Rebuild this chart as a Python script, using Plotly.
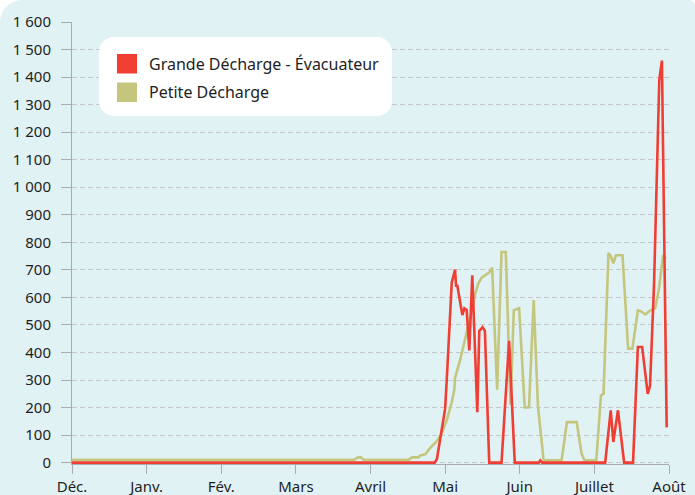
import plotly.graph_objects as go

# ---------------- data ----------------
MONTH_LABELS = ["Déc.", "Janv.", "Fév.", "Mars", "Avril", "Mai", "Juin", "Juillet", "Août"]
MONTH_TICKS = list(range(len(MONTH_LABELS)))        # months since 1 Dec
Y_TICKS = list(range(0, 1601, 100))

SERIES_NAMES = ["Grande Décharge - Évacuateur", "Petite Décharge"]

# time in months since 1 December, discharge value
grande_t = [0.0, 4.86, 4.89, 4.935, 4.978, 5.0, 5.022, 5.067, 5.089, 5.133, 5.147,
            5.164, 5.231, 5.258, 5.289, 5.324, 5.364, 5.431, 5.458, 5.502, 5.533,
            5.591, 5.756, 5.857, 5.933, 6.255, 6.275, 6.30, 7.145, 7.219, 7.254,
            7.316, 7.399, 7.518, 7.583, 7.640, 7.715, 7.746, 7.80, 7.87, 7.905, 7.969]
grande_q = [0, 0, 13, 89, 160, 195, 301, 513, 654, 701, 642,
            642, 536, 560, 554, 407, 680, 183, 478, 492, 478,
            0, 0, 442, 0, 0, 8, 0, 0, 190, 75,
            190, 0, 0, 420, 420, 250, 280, 650, 1390, 1460, 128]

petite_t = [0.0, 3.78, 3.83, 3.87, 3.91, 4.51, 4.556, 4.644, 4.667, 4.733, 4.80,
            4.889, 4.956, 5.022, 5.089, 5.124, 5.133, 5.20, 5.267, 5.311, 5.356,
            5.40, 5.444, 5.489, 5.556, 5.59, 5.63, 5.697, 5.756, 5.813, 5.876,
            5.92, 5.991, 6.067, 6.124, 6.187, 6.244, 6.32, 6.561, 6.632, 6.763,
            6.829, 6.868, 7.026, 7.088, 7.123, 7.189, 7.22, 7.254, 7.289, 7.377,
            7.452, 7.509, 7.583, 7.62, 7.684, 7.737, 7.816, 7.868, 7.921, 7.956]
petite_q = [10, 10, 19, 19, 10, 10, 19, 19, 26, 30, 54,
            78, 107, 154, 219, 266, 307, 372, 448, 495, 550,
            610, 650, 672, 685, 690, 708, 265, 765, 765, 210,
            553, 561, 200, 200, 590, 205, 8, 8, 147, 147,
            32, 8, 8, 244, 250, 761, 750, 724, 753, 753,
            414, 414, 553, 550, 538, 550, 561, 636, 754, 740]

COLORS = ["#ef3e33", "#c4c67e"]

# ---------------- geometry ----------------
FIG_W, FIG_H = 695, 495
PL, PR, PT, PB = 72, 669, 22, 464          # plot area in pixels


def fx(p):
    return (p - PL) / (PR - PL)


def fy(p):
    return (PB - p) / (PB - PT)


def rrect(x0, y0, x1, y1, rtl=0, rtr=0, rbr=0, rbl=0):
    k = 0.4477  # 1 - 0.5523
    def P(x, y):
        return f"{fx(x):.5f},{fy(y):.5f}"
    s = f"M{P(x0 + rtl, y0)} L{P(x1 - rtr, y0)} "
    s += f"C{P(x1 - rtr * k, y0)} {P(x1, y0 + rtr * k)} {P(x1, y0 + rtr)} "
    s += f"L{P(x1, y1 - rbr)} "
    s += f"C{P(x1, y1 - rbr * k)} {P(x1 - rbr * k, y1)} {P(x1 - rbr, y1)} "
    s += f"L{P(x0 + rbl, y1)} "
    s += f"C{P(x0 + rbl * k, y1)} {P(x0, y1 - rbl * k)} {P(x0, y1 - rbl)} "
    s += f"L{P(x0, y0 + rtl)} "
    s += f"C{P(x0, y0 + rtl * k)} {P(x0 + rtl * k, y0)} {P(x0 + rtl, y0)} Z"
    return s


FONT = "Noto Sans"
TXT = "#1e1e1e"
AX = "#a9abac"

fig = go.Figure()
fig.add_trace(go.Scatter(x=petite_t, y=petite_q, mode="lines", name=SERIES_NAMES[1],
                         line=dict(color=COLORS[1], width=2.6), showlegend=False))
fig.add_trace(go.Scatter(x=grande_t, y=grande_q, mode="lines", name=SERIES_NAMES[0],
                         line=dict(color=COLORS[0], width=2.6), showlegend=False))

shapes = [
    # card background
    dict(type="path", xref="paper", yref="paper", layer="below",
         path=rrect(0, 0, FIG_W, FIG_H + 10, rtl=22, rtr=6),
         fillcolor="#e1f2f5", line=dict(width=0)),
    # legend box
    dict(type="path", xref="paper", yref="paper", layer="above",
         path=rrect(99, 37, 392, 116, 15, 15, 15, 15),
         fillcolor="#ffffff", line=dict(width=0)),
]
annotations = []
rows = [(54, 73.5, 63.5), (82.5, 102, 92)]
for (ya, yb, yc), name, col in zip(rows, SERIES_NAMES, COLORS):
    shapes.append(dict(type="rect", xref="paper", yref="paper", layer="above",
                       x0=fx(117), x1=fx(137), y0=fy(yb), y1=fy(ya),
                       fillcolor=col, line=dict(width=0)))
    annotations.append(dict(xref="paper", yref="paper", x=fx(147), y=fy(yc),
                            xanchor="left", yanchor="middle", text=name,
                            showarrow=False, font=dict(family=FONT, size=16, color=TXT)))

fig.update_layout(
    template="none",
    width=FIG_W, height=FIG_H,
    margin=dict(l=PL, r=FIG_W - PR, t=PT, b=FIG_H - PB, pad=0),
    paper_bgcolor="#ffffff",
    plot_bgcolor="rgba(0,0,0,0)",
    separators=", ",
    font=dict(family=FONT, size=15, color=TXT),
    shapes=shapes,
    annotations=annotations,
    showlegend=False,
)
fig.update_xaxes(range=[0, 8], tickmode="array", tickvals=MONTH_TICKS, ticktext=MONTH_LABELS,
                 automargin=False,
                 showgrid=False, zeroline=False, showline=True, linecolor=AX, linewidth=1,
                 ticks="outside", ticklen=9, tickcolor=AX, tickwidth=1,
                 tickfont=dict(family=FONT, size=15, color=TXT))
fig.update_yaxes(range=[-5, 1600], tickmode="array", tickvals=Y_TICKS, tickformat=",d",
                 automargin=False, ticklabelstandoff=7,
                 showgrid=True, gridcolor="#c4c8ca", gridwidth=1, griddash="5px,3px",
                 zeroline=False, showline=True, linecolor=AX, linewidth=1,
                 ticks="outside", ticklen=10, tickcolor=AX, tickwidth=1,
                 tickfont=dict(family=FONT, size=15, color=TXT))

fig.write_html("out.html", config={"displayModeBar": False},
               post_script="document.body.style.margin='0';document.body.style.overflow='hidden';")
